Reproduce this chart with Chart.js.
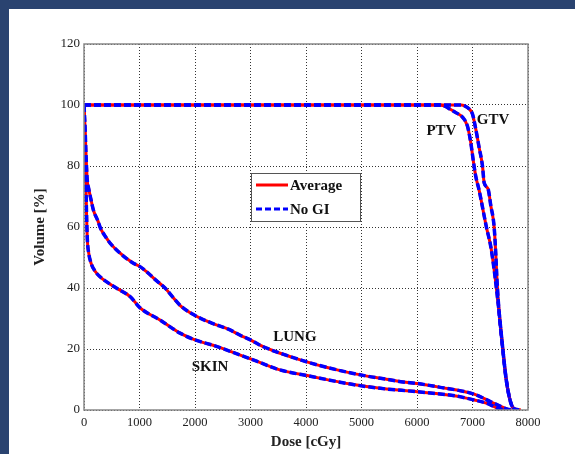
<!DOCTYPE html>
<html>
<head>
<meta charset="utf-8">
<script src="https://cdn.jsdelivr.net/npm/chart.js@4"></script>
<style>
  html, body { margin: 0; padding: 0; }
  body { width: 575px; height: 454px; background: #2A4370; position: relative; overflow: hidden; }
  #panel { position: absolute; left: 9px; top: 9px; width: 566px; height: 445px; background: #fff; }
  #wrap { position: absolute; left: 0; top: 0; width: 575px; height: 454px; }
</style>
</head>
<body>
<div id="panel"></div>
<div id="wrap"><canvas id="dvhChart" width="575" height="454"></canvas></div>
<script>
// Curvas DVH: [dosis cGy, volumen %]
const gtvAverage = [[0,100],[6800,100],[6850,99.8],[6950,98.5],[7000,97],[7060,92],[7120,86],[7180,80],[7210,74.5],[7280,72.5],[7330,67],[7390,60],[7420,51],[7440,43],[7480,32],[7540,21],[7600,11],[7660,4.5],[7720,1],[7800,0.2],[7870,0]];
const ptvAverage = [[0,100],[6400,100],[6500,99.6],[6600,98.6],[6700,97.5],[6820,96],[6910,93],[6970,87.5],[7020,81],[7060,76.5],[7120,72],[7180,66.5],[7250,60],[7330,53.5],[7390,46],[7430,40],[7480,32],[7540,21],[7600,11],[7660,4.5],[7720,1],[7780,0]];
const lungAverage = [[0,100],[20,92],[40,82],[60,75],[80,73],[120,69.5],[170,65.5],[250,62],[300,59.5],[400,56.5],[470,54.7],[650,51.4],[890,48.1],[1010,47],[1150,45],[1300,42.5],[1460,40],[1600,37],[1750,34],[2000,31],[2300,28.5],[2600,26.5],[2816,24.5],[3000,23],[3200,21],[3400,19.5],[3800,17],[4200,14.8],[4600,13],[5100,11.1],[5340,10.4],[5750,9.2],[6000,8.7],[6400,7.5],[7030,5.2],[7330,2.7],[7630,0.3],[7700,0]];
const skinAverage = [[0,100],[15,90],[30,78],[45,65],[60,56],[80,52],[130,48],[200,45.5],[300,43.5],[410,42],[590,39.9],[830,37.2],[1010,33.5],[1370,29.5],[1730,25.2],[2000,23],[2400,20.8],[2816,18],[3110,16],[3500,13.3],[4100,11],[4800,8.5],[5340,7.1],[6000,6],[6700,4.6],[7030,3.3],[7260,2.2],[7450,0.6],[7600,0]];

// "No GI" coincide con el promedio en toda la figura
const gtvNoGI = gtvAverage;
const ptvNoGI = ptvAverage;
const lungNoGI = lungAverage;
const skinNoGI = skinAverage;

const seriesNames = ['Average', 'No GI'];
const xTicks = [0, 1000, 2000, 3000, 4000, 5000, 6000, 7000, 8000];
const yTicks = [0, 20, 40, 60, 80, 100, 120];

// etiquetas de estructura en coordenadas de datos
const structLabels = [
    { text: 'PTV', x: 6440, y: 91.5 },
    { text: 'GTV', x: 7370, y: 95 },
    { text: 'LUNG', x: 3800, y: 24 },
    { text: 'SKIN', x: 2270, y: 14 }
];

const RED = '#FF0000';
const BLUE = '#0000FF';
const SERIF = "'Liberation Serif', 'DejaVu Serif', serif";

function toPoints(arr) {
    return arr.map(p => ({ x: p[0], y: p[1] }));
}

function avgSet(arr) {
    return { label: seriesNames[0], data: toPoints(arr), borderColor: RED, borderWidth: 3, order: 2 };
}
function noGISet(arr) {
    return { label: seriesNames[1], data: toPoints(arr), borderColor: BLUE, borderWidth: 3.5, borderDash: [7, 3], order: 1 };
}

const frameAndLabels = {
    id: 'frameAndLabels',
    afterDatasetsDraw(chart) {
        const { ctx, chartArea: a, scales } = chart;
        ctx.save();
        // marco completo del área
        ctx.strokeStyle = '#888';
        ctx.lineWidth = 1.5;
        ctx.strokeRect(a.left, a.top, a.right - a.left, a.bottom - a.top);

        // etiquetas de estructuras
        ctx.fillStyle = '#111';
        ctx.font = 'bold 15px ' + SERIF;
        ctx.textAlign = 'center';
        ctx.textBaseline = 'middle';
        structLabels.forEach(l => {
            ctx.fillText(l.text, scales.x.getPixelForValue(l.x), scales.y.getPixelForValue(l.y));
        });

        // leyenda
        const bx = a.left + 167, by = a.top + 129, bw = 109, bh = 48;
        ctx.fillStyle = '#fff';
        ctx.fillRect(bx, by, bw, bh);
        ctx.strokeStyle = '#555';
        ctx.lineWidth = 1;
        ctx.strokeRect(bx + 0.5, by + 0.5, bw, bh);
        const rows = [
            { name: seriesNames[0], color: RED, dash: [] },
            { name: seriesNames[1], color: BLUE, dash: [6, 3] }
        ];
        rows.forEach((r, i) => {
            const y = by + 12 + i * 24;
            ctx.strokeStyle = r.color;
            ctx.lineWidth = 3;
            ctx.setLineDash(r.dash);
            ctx.beginPath();
            ctx.moveTo(bx + 5, y);
            ctx.lineTo(bx + 37, y);
            ctx.stroke();
            ctx.setLineDash([]);
            ctx.fillStyle = '#111';
            ctx.textAlign = 'left';
            ctx.fillText(r.name, bx + 39, y + 1);
        });
        ctx.restore();
    }
};

document.addEventListener('DOMContentLoaded', function() {
    const ctx = document.getElementById('dvhChart');
    new Chart(ctx, {
        type: 'line',
        data: {
            datasets: [
                avgSet(gtvAverage), noGISet(gtvNoGI),
                avgSet(ptvAverage), noGISet(ptvNoGI),
                avgSet(lungAverage), noGISet(lungNoGI),
                avgSet(skinAverage), noGISet(skinNoGI)
            ]
        },
        options: {
            responsive: false,
            animation: false,
            layout: { padding: { top: 44, right: 47, left: 0, bottom: 0 } },
            elements: {
                point: { radius: 0 },
                line: { cubicInterpolationMode: 'monotone', fill: false }
            },
            plugins: {
                legend: { display: false },
                tooltip: { enabled: false }
            },
            scales: {
                x: {
                    type: 'linear',
                    min: 0,
                    max: 8000,
                    afterBuildTicks: s => { s.ticks = xTicks.map(v => ({ value: v })); },
                    afterFit: s => { s.height = 44; },
                    grid: { color: '#333', lineWidth: 1, drawTicks: false },
                    border: { display: false, dash: [1, 2] },
                    ticks: { color: '#222', padding: 5, maxRotation: 0, font: { family: SERIF, size: 12.5 }, callback: v => String(v) },
                    title: { display: true, text: 'Dose [cGy]', color: '#222', padding: { top: 0, bottom: 3 }, font: { family: SERIF, size: 15, weight: 'bold' } }
                },
                y: {
                    type: 'linear',
                    min: 0,
                    max: 120,
                    afterBuildTicks: s => { s.ticks = yTicks.map(v => ({ value: v })); },
                    afterFit: s => { s.width = 84; },
                    grid: { color: '#333', lineWidth: 1, drawTicks: false },
                    border: { display: false, dash: [1, 2] },
                    ticks: { color: '#222', padding: 4, font: { family: SERIF, size: 13 }, callback: v => String(v) },
                    title: { display: true, text: 'Volume [%]', color: '#222', padding: { top: 31, bottom: 0 }, font: { family: SERIF, size: 15, weight: 'bold' } }
                }
            }
        },
        plugins: [frameAndLabels]
    });
});
</script>
</body>
</html>
